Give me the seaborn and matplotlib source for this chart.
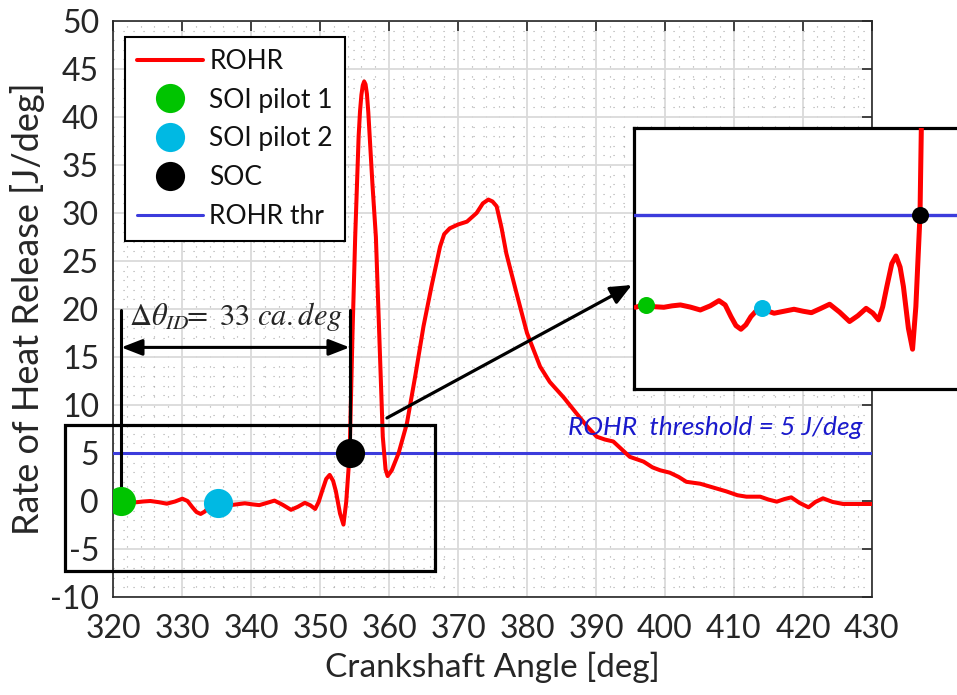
import numpy as np
import pandas as pd
import matplotlib
matplotlib.use("Agg")
import matplotlib.pyplot as plt
from matplotlib.lines import Line2D
from matplotlib.patches import Rectangle, FancyArrowPatch
from matplotlib.ticker import MultipleLocator
import seaborn as sns

# ---------------- data ----------------
angle = [320.0, 320.6, 321.2, 322.3, 323.4, 324.4, 325.4, 326.6, 327.8, 329.0,
         330.05, 330.8, 331.5, 332.1, 332.7, 333.3, 333.9, 334.6, 335.2, 336.0,
         336.7, 337.9, 339.1, 340.2, 341.2, 342.3, 343.4, 344.6, 345.8, 346.8,
         347.8, 348.6, 349.3, 349.8, 350.3, 350.9, 351.4, 351.9, 352.3, 352.9,
         353.4, 353.8, 354.3, 354.7, 355.1, 355.6, 355.8, 356.0, 356.2, 356.4,
         356.6, 356.8, 357.0, 357.2, 357.6, 358.1, 358.6, 359.1, 359.5, 359.8,
         360.4, 361.4, 362.6, 363.8, 365.0, 366.2, 367.4, 368.0, 368.8, 370.0,
         371.3, 372.7, 373.6, 374.4, 375.0, 375.6, 376.3, 377.0, 378.5, 380.0,
         381.9, 383.3, 385.3, 387.2, 388.8, 390.1, 391.3, 392.5, 394.0, 394.9,
         396.9, 398.2, 399.3, 400.7, 402.0, 403.1, 405.1, 407.0, 408.9, 410.5,
         411.8, 413.8, 415.0, 416.2, 417.3, 418.3, 419.5, 420.8, 421.8, 422.9,
         424.3, 425.8, 428.0, 430.0]
rohr = [-0.13, -0.05, 0.0, -0.1, -0.13, -0.05, 0.0, -0.12, -0.28, -0.05,
        0.24, 0.0, -0.65, -1.15, -1.35, -1.1, -0.65, -0.3, -0.19, -0.35,
        -0.46, -0.35, -0.24, -0.35, -0.43, -0.2, 0.04, -0.4, -0.92, -0.6,
        -0.19, -0.45, -0.83, -0.1, 1.02, 2.3, 2.72, 2.1, 1.02, -1.3,
        -2.46, -0.09, 5.0, 17.1, 27.5, 38.0, 40.6, 42.3, 43.3, 43.7,
        43.4, 42.4, 40.5, 38.0, 33.0, 27.5, 17.1, 6.7, 3.3, 2.6,
        3.2, 5.0, 8.1, 13.0, 18.2, 22.5, 26.5, 27.8, 28.4, 28.8,
        29.1, 30.0, 31.0, 31.4, 31.2, 30.7, 28.5, 25.8, 21.6, 17.5,
        14.0, 12.4, 10.8, 9.1, 7.7, 6.7, 6.4, 6.2, 5.2, 4.6,
        4.1, 3.5, 3.2, 2.95, 2.5, 2.0, 1.8, 1.4, 1.0, 0.6,
        0.45, 0.45, 0.15, -0.07, 0.2, 0.38, -0.2, -0.66, -0.1, 0.28,
        -0.1, -0.31, -0.31, -0.31]

event_names = ["SOI pilot 1", "SOI pilot 2", "SOC"]
event_angle = [321.2, 335.2, 354.3]
event_rohr = [0.0, -0.19, 5.0]
event_colors = ["#00c400", "#00b9e3", "#000000"]

threshold = 5
ignition_delay = 33
x_ticks = list(range(320, 431, 10))
y_ticks = list(range(-10, 51, 5))

df = pd.DataFrame({"angle": angle, "rohr": rohr})

# ---------------- style ----------------
sns.set_style("white")
plt.rcParams["font.family"] = ["Lato", "DejaVu Sans"]
plt.rcParams["mathtext.fontset"] = "stix"
plt.rcParams["axes.unicode_minus"] = False

W, H = 957, 695
fig = plt.figure(figsize=(W / 100, H / 100), dpi=100)
ax = fig.add_axes([113 / W, (H - 597) / H, 759 / W, 576 / H])

red = "#ff0000"
blue = "#3c3cdc"
lw_red = 2.9
txt = "#262626"

sns.lineplot(data=df, x="angle", y="rohr", ax=ax, color=red, lw=lw_red,
             zorder=4, legend=False)
ax.axhline(threshold, color=blue, lw=2.2, zorder=3)
for xa, ya, c in zip(event_angle, event_rohr, event_colors):
    sns.scatterplot(x=[xa], y=[ya], ax=ax, s=440, color=c, linewidth=0,
                    zorder=6, legend=False)

ax.set_xlim(320, 430)
ax.set_ylim(-10, 50)
ax.set_xticks(x_ticks)
ax.set_yticks(y_ticks)
ax.xaxis.set_minor_locator(MultipleLocator(2))
ax.yaxis.set_minor_locator(MultipleLocator(1))
ax.grid(which="major", color="#dadada", lw=1.3, zorder=0)
ax.grid(which="minor", color="#a8a8a8", lw=0.8, ls=(0, (1, 8)), zorder=0)
ax.set_axisbelow(True)
ax.tick_params(which="major", direction="in", length=7, width=1.2,
               top=True, right=True, labelsize=23, colors=txt)
ax.tick_params(axis="x", which="major", pad=12)
ax.tick_params(axis="y", which="major", pad=10)
ax.tick_params(which="minor", length=0)
for s in ax.spines.values():
    s.set_color(txt)
    s.set_linewidth(1.2)
ax.set_xlabel("Crankshaft Angle [deg]", fontsize=24, color=txt, labelpad=6)
ax.set_ylabel("Rate of Heat Release [J/deg]", fontsize=26, color=txt, labelpad=4)

# threshold label
ax.text(428.6, 7.7, "ROHR  threshold = 5 J/deg", color="#1a1acc", fontsize=19,
        fontstyle="italic", ha="right", va="center", zorder=5)

# ignition delay annotation
top_y = 19.9
ax.plot([event_angle[0], event_angle[0]], [event_rohr[0], top_y], color="black",
        lw=2.2, zorder=5)
ax.plot([event_angle[2], event_angle[2]], [event_rohr[2], top_y], color="black",
        lw=2.2, zorder=5)
ax.add_patch(FancyArrowPatch((event_angle[0], 16.0), (event_angle[2], 16.0),
                             arrowstyle="<|-|>,head_length=0.9,head_width=0.35",
                             mutation_scale=14, color="black", lw=2.2,
                             shrinkA=0, shrinkB=0, zorder=5))
ax.text(337.8, 19.2, r"$\Delta\theta_{ID}\!\!=\ %d\ ca.deg$" % ignition_delay,
        fontsize=22, ha="center", va="center", zorder=5)

# zoom rectangle
ax.add_patch(Rectangle((313.0, -7.3), 366.7 - 313.0, 7.92 + 7.3, fill=False,
                       ec="black", lw=2.3, clip_on=False, zorder=5))
# arrow to inset
ax.annotate("", xy=(395.2, 22.5), xytext=(359.7, 8.65),
            arrowprops=dict(arrowstyle="-|>,head_length=0.8,head_width=0.35",
                            mutation_scale=16, color="black", lw=2.3,
                            shrinkA=0, shrinkB=0),
            annotation_clip=False, zorder=7)

# legend
handles = [Line2D([], [], color=red, lw=lw_red)]
for c in event_colors:
    handles.append(Line2D([], [], ls="none", marker="o", ms=21, color=c, mew=0))
handles.append(Line2D([], [], color=blue, lw=2.2))
labels = ["ROHR"] + event_names + ["ROHR thr"]
leg = ax.legend(handles, labels, loc="upper left",
                bbox_to_anchor=(12 / 759, (597 - 37) / 576), borderaxespad=0,
                fontsize=19, frameon=True, fancybox=False, edgecolor="black",
                framealpha=1, handlelength=2.5, handletextpad=0.25,
                labelspacing=0.52, borderpad=0.45)
leg.get_frame().set_linewidth(1.5)
for t in leg.get_texts():
    t.set_color("#111111")
leg.set_zorder(8)

# ---------------- inset ----------------
ix0, ix1 = 634, 970
iy_top, iy_bot = 128, 389
axi = fig.add_axes([ix0 / W, (H - iy_bot) / H, (ix1 - ix0) / W, (iy_bot - iy_top) / H])
axi.set_zorder(9)
sns.lineplot(data=df, x="angle", y="rohr", ax=axi, color=red, lw=3.6,
             zorder=4, legend=False)
axi.axhline(threshold, color=blue, lw=2.4, zorder=3)
for xa, ya, c in zip(event_angle, event_rohr, event_colors):
    sns.scatterplot(x=[xa], y=[ya], ax=axi, s=150, color=c, linewidth=0,
                    zorder=6, legend=False)
axi.set_xlim(319.8, 319.8 + (ix1 - ix0) / 8.29)
axi.set_ylim(-4.67, 9.83)
axi.set_xticks([])
axi.set_yticks([])
axi.set_xlabel("")
axi.set_ylabel("")
axi.set_facecolor("white")
for s in axi.spines.values():
    s.set_color("black")
    s.set_linewidth(2.3)

fig.savefig("out.png", dpi=100)
